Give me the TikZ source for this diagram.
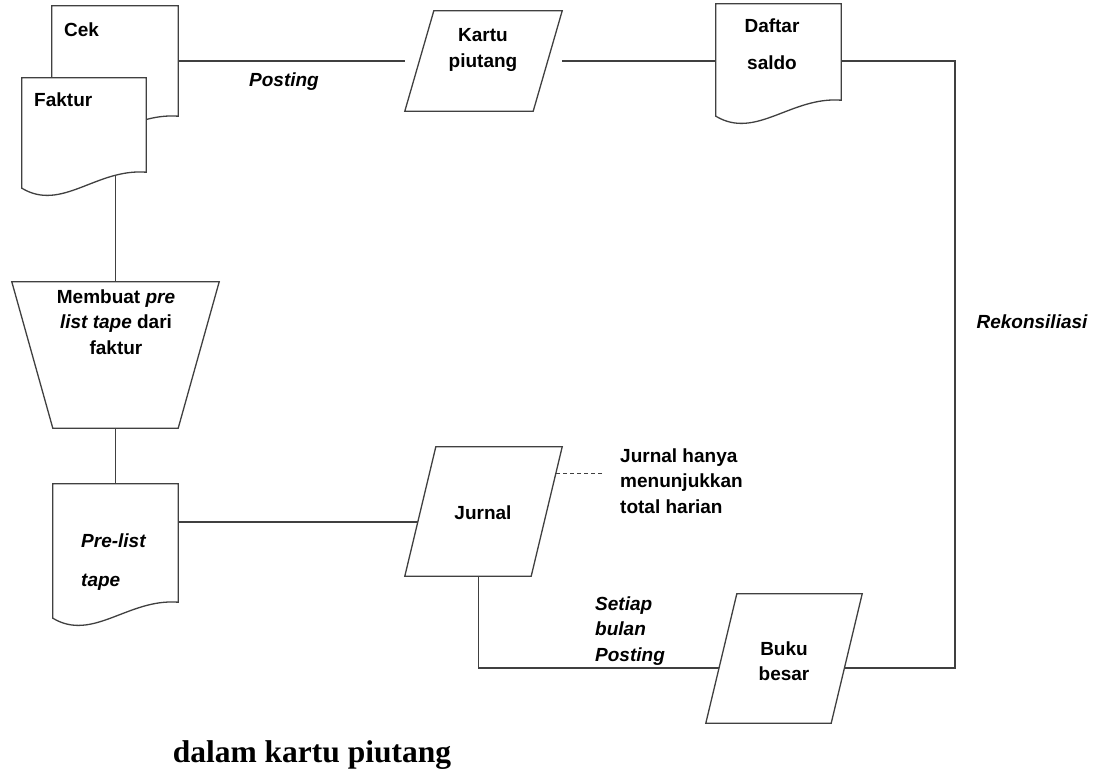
\documentclass[tikz,border=0pt]{standalone}
\usepackage{fontspec}
\setmainfont{Liberation Sans}
\newfontfamily\capfont{Liberation Serif}
\usepackage{tikz}
\pgfdeclarelayer{bg}
\pgfsetlayers{bg,main}

\tikzset{
  flow/.style={draw=black!75, line width=1.3pt},
  box/.style={rectangle, inner sep=0pt},
  lbl/.style={font=\fontsize{19}{25.5}\selectfont\bfseries, inner sep=0pt},
  ilbl/.style={lbl, font=\fontsize{19}{25.5}\selectfont\bfseries\itshape}
}

\newcommand{\docshape}[1]{%
  \draw[flow, fill=white] (#1.north west) -- ([yshift=-16pt]#1.south west)
    .. controls +(40,24) and +(-50,-4) .. (#1.south east) -- (#1.north east) -- cycle;}
\newcommand{\parashape}[2]{%
  \draw[flow, fill=white] ([xshift=#2]#1.north west) -- (#1.north east)
    -- ([xshift=-#2]#1.south east) -- (#1.south west) -- cycle;}
\newcommand{\manualshape}[2]{%
  \draw[flow, fill=white] (#1.north west) -- (#1.north east)
    -- ([xshift=-#2]#1.south east) -- ([xshift=#2]#1.south west) -- cycle;}

\begin{document}
\begin{tikzpicture}[x=1pt, y=-1pt]

\useasboundingbox (0,0) rectangle (1108,774);

\node[box, minimum width=126pt, minimum height=110pt] (cek) at (115,61) {};
\node[box, minimum width=124pt, minimum height=94pt] (faktur) at (84,125) {};
\node[box, minimum width=157pt, minimum height=100pt] (kartu) at (483.5,61) {};
\node[box, minimum width=125pt, minimum height=96pt] (daftar) at (778.5,52) {};
\node[box, minimum width=207pt, minimum height=146pt] (membuat) at (115.5,355) {};
\node[box, minimum width=125pt, minimum height=118pt] (prelist) at (115.5,543) {};
\node[box, minimum width=157pt, minimum height=129pt] (jurnal) at (483.5,511.5) {};
\node[box, minimum width=156pt, minimum height=129pt] (buku) at (784,658.5) {};
\coordinate (rekon) at (955,61);
\coordinate (catatan) at (602,473);

\docshape{cek}
\docshape{faktur}
\parashape{kartu}{29pt}
\docshape{daftar}
\manualshape{membuat}{41pt}
\docshape{prelist}
\parashape{jurnal}{31pt}
\parashape{buku}{31pt}

\begin{pgfonlayer}{bg}
\draw[flow] (cek) -- (kartu) -- (kartu -| daftar) -- (rekon) |- ([yshift=-9.5pt]buku.center);
\draw[flow] (faktur) -- (faktur -| membuat) -- (membuat) -- (prelist);
\draw[flow] ([yshift=21pt]prelist.center) -| (jurnal);
\draw[flow] ([xshift=-5pt]jurnal.center) |- ([yshift=-9.5pt]buku.center);
\draw[flow, line width=0.8pt, dash pattern=on 4pt off 3pt] (catatan) -- (catatan -| jurnal);
\end{pgfonlayer}

\node[lbl, anchor=west] (cek-t) at (64,30) {Cek};
\node[lbl, anchor=west] (faktur-t) at (34,100) {Faktur};
\node[ilbl] (posting) at (284,82) {Posting};
\node[lbl, align=center] (kartu-t) at (483,50) {Kartu\\piutang};
\node[lbl, align=center] (daftar-t) at (772,44) {Daftar\\[12pt]saldo};
\node[lbl, align=center] (membuat-t) at (116,322) {Membuat \textit{pre}\\\textit{list tape} dari\\faktur};
\node[ilbl, align=left, anchor=west] (prelist-t) at (81,562) {Pre-list\\[13pt]tape};
\node[lbl] (jurnal-t) at (483,513) {Jurnal};
\node[lbl, align=left, anchor=west] (catatan-t) at (620,481) {Jurnal hanya\\menunjukkan\\total harian};
\node[ilbl, align=left, anchor=west] (setiap) at (595,631) {Setiap\\bulan\\Posting};
\node[lbl, align=center] (buku-t) at (784,661) {Buku\\besar};
\node[ilbl] (rekonsiliasi) at (1032,322) {Rekonsiliasi};
\node[font=\capfont\fontsize{31.5}{36}\selectfont\bfseries, inner sep=0pt] (judul) at (312,755) {dalam kartu piutang};

\end{tikzpicture}
\end{document}
